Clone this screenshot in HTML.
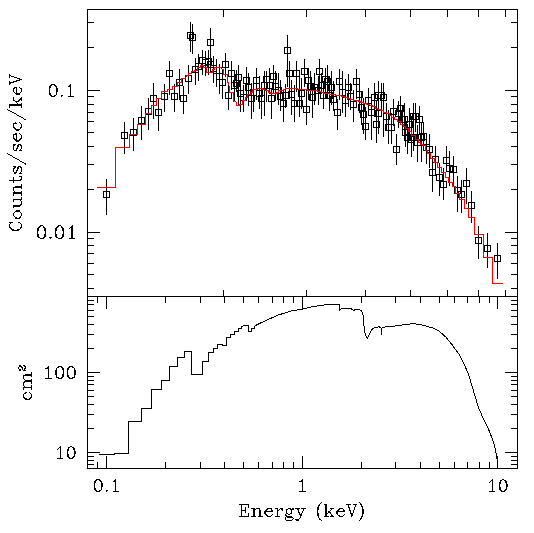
<!DOCTYPE html>
<html><head><meta charset="utf-8"><style>
html,body{margin:0;padding:0;background:#fff;}
svg{display:block;}
body{font-family:"Liberation Serif",serif;}
</style></head><body>
<svg width="534" height="533" viewBox="0 0 534 533">
<rect width="534" height="533" fill="#fff"/>
<path d="M87.5 9.5H517.5V468.5H87.5Z M87.5 296.5H517.5 M87.5 22.5h6.5M517.5 22.5h-6.5 M87.5 47.5h6.5M517.5 47.5h-6.5 M87.5 90.5h12.5M517.5 90.5h-12.5 M87.5 96.5h6.5M517.5 96.5h-6.5 M87.5 104.5h6.5M517.5 104.5h-6.5 M87.5 112.5h6.5M517.5 112.5h-6.5 M87.5 121.5h6.5M517.5 121.5h-6.5 M87.5 132.5h6.5M517.5 132.5h-6.5 M87.5 146.5h6.5M517.5 146.5h-6.5 M87.5 164.5h6.5M517.5 164.5h-6.5 M87.5 189.5h6.5M517.5 189.5h-6.5 M87.5 232.5h12.5M517.5 232.5h-12.5 M87.5 238.5h6.5M517.5 238.5h-6.5 M87.5 245.5h6.5M517.5 245.5h-6.5 M87.5 253.5h6.5M517.5 253.5h-6.5 M87.5 263.5h6.5M517.5 263.5h-6.5 M87.5 274.5h6.5M517.5 274.5h-6.5 M87.5 288.5h6.5M517.5 288.5h-6.5 M223.5 9.5v7.5M223.5 296.5v-7 M306.5 9.5v7.5M306.5 296.5v-7 M365.5 9.5v7.5M365.5 296.5v-7 M410.5 9.5v7.5M410.5 296.5v-7 M447.5 9.5v7.5M447.5 296.5v-7 M478.5 9.5v7.5M478.5 296.5v-7 M505.5 9.5v7.5M505.5 296.5v-7 M87.5 300.5h6.5M517.5 300.5h-6.5 M87.5 304.5h6.5M517.5 304.5h-6.5 M87.5 310.5h6.5M517.5 310.5h-6.5 M87.5 316.5h6.5M517.5 316.5h-6.5 M87.5 324.5h6.5M517.5 324.5h-6.5 M87.5 334.5h6.5M517.5 334.5h-6.5 M87.5 348.5h6.5M517.5 348.5h-6.5 M87.5 372.5h12.5M517.5 372.5h-12.5 M87.5 376.5h6.5M517.5 376.5h-6.5 M87.5 380.5h6.5M517.5 380.5h-6.5 M87.5 384.5h6.5M517.5 384.5h-6.5 M87.5 390.5h6.5M517.5 390.5h-6.5 M87.5 396.5h6.5M517.5 396.5h-6.5 M87.5 404.5h6.5M517.5 404.5h-6.5 M87.5 414.5h6.5M517.5 414.5h-6.5 M87.5 428.5h6.5M517.5 428.5h-6.5 M87.5 452.5h12.5M517.5 452.5h-12.5 M87.5 456.5h6.5M517.5 456.5h-6.5 M87.5 460.5h6.5M517.5 460.5h-6.5 M87.5 464.5h6.5M517.5 464.5h-6.5 M97.5 296.5v6.5M97.5 468.5v-6.5 M106.5 296.5v12.5M106.5 468.5v-12.5 M165.5 296.5v6.5M165.5 468.5v-6.5 M200.5 296.5v6.5M200.5 468.5v-6.5 M224.5 296.5v6.5M224.5 468.5v-6.5 M243.5 296.5v6.5M243.5 468.5v-6.5 M258.5 296.5v6.5M258.5 468.5v-6.5 M272.5 296.5v6.5M272.5 468.5v-6.5 M283.5 296.5v6.5M283.5 468.5v-6.5 M293.5 296.5v6.5M293.5 468.5v-6.5 M302.5 296.5v12.5M302.5 468.5v-12.5 M361.5 296.5v6.5M361.5 468.5v-6.5 M395.5 296.5v6.5M395.5 468.5v-6.5 M420.5 296.5v6.5M420.5 468.5v-6.5 M439.5 296.5v6.5M439.5 468.5v-6.5 M454.5 296.5v6.5M454.5 468.5v-6.5 M467.5 296.5v6.5M467.5 468.5v-6.5 M479.5 296.5v6.5M479.5 468.5v-6.5 M489.5 296.5v6.5M489.5 468.5v-6.5 M497.5 296.5v12.5M497.5 468.5v-12.5 M99.2 454.2 L114.5 454.2 L114.5 453.3 L128.3 453.3 L128.3 421.3 L141.4 421.3 L141.4 408.3 L151.5 408.3 L151.5 389.4 L161.4 389.4 L161.4 380.4 L169.5 380.4 L169.5 366.4 L177.3 366.4 L177.3 357.4 L184.2 357.4 L184.2 351.2 L191.3 351.2 L191.3 374.3 L202.5 374.3 L202.5 361.3 L208.5 361.3 L208.5 352.3 L213.3 352.3 L213.3 348.2 L217 348.2 L217 344.1 L221.8 344.1 L222.7 345 L226.5 345 L226.5 337.6 L230.6 337.6 L230.6 334.2 L234.4 334.2 L234.4 331.3 L238.4 331.3 L238.4 328.6 L241.8 328.6 L241.8 326.3 L245.2 325.2 L248.3 325.2 L248.5 331.3 L251.5 331.3 L251.5 328.6 L254.2 328.6 L254.2 326.3 L257.5 324.5 L265.4 320.7 L272.1 317.8 L278.9 314.7 L285.6 312.9 L292.4 310.6 L301.2 309.5 L312.5 306.6 L323.7 305 L332.7 304.4 L339.4 304.4 L339.4 310.2 L341.1 308.7 L351 308.7 L353.6 310.2 L358.8 309.1 L361.5 311.1 L363.4 315.7 L364.1 327.5 L365.4 335.3 L367.4 338.2 L369.3 334.7 L372 329.4 L375.2 327.5 L379.1 326.8 L381.1 328.1 L381.4 334.7 L381.6 328.1 L383.7 327.5 L387.7 326.1 L392.9 326.4 L400 325.3 L406.5 324.4 L413 323.7 L419.6 324.4 L426.1 326 L432.6 328 L439.1 331.2 L445.6 336.8 L452.2 344.9 L458.7 353.7 L463.6 362.8 L468.5 374.3 L473.4 390.6 L478.3 406.9 L483.1 418.3 L488 428 L491.3 436.2 L494.6 446 L496.5 455.8 L497.5 462 L497.5 468" fill="none" stroke="#000" stroke-width="1.0" stroke-linejoin="miter" shape-rendering="crispEdges"/>
<path d="M106.3 179.3V214.6M103.3 191.4h6.0v6.0h-6.0z M124.6 121.5V154.1M121.6 132.4h6.0v6.0h-6.0z M133.4 118.3V150.5M130.4 129.9h6.0v6.0h-6.0z M141.3 106.1V140.2M138.3 117.6h6.0v6.0h-6.0z M148.2 98.0V130.0M145.2 108.6h6.0v6.0h-6.0z M153.2 83.0V119.0M150.2 95.3h6.0v6.0h-6.0z M158.4 99.2V131.0M155.4 109.3h6.0v6.0h-6.0z M164.8 84.2V111.5M161.8 93.4h6.0v6.0h-6.0z M169.9 61.2V95.0M166.9 70.3h6.0v6.0h-6.0z M174.4 84.2V111.8M171.4 93.4h6.0v6.0h-6.0z M179.4 69.2V99.5M176.4 79.2h6.0v6.0h-6.0z M183.7 86.0V113.8M180.7 95.3h6.0v6.0h-6.0z M188.5 65.0V93.7M185.5 75.2h6.0v6.0h-6.0z M190.9 22.3V51.6M187.9 32.2h6.0v6.0h-6.0z M192.6 24.1V53.5M189.6 34.1h6.0v6.0h-6.0z M195.3 58.0V84.7M192.3 66.2h6.0v6.0h-6.0z M198.6 54.2V80.5M195.6 63.0h6.0v6.0h-6.0z M202.4 49.9V74.9M199.4 57.3h6.0v6.0h-6.0z M205.2 51.3V75.8M202.2 59.0h6.0v6.0h-6.0z M208.3 49.9V74.9M205.3 58.0h6.0v6.0h-6.0z M210.6 27.8V58.0M207.6 39.4h6.0v6.0h-6.0z M210.4 52.0V72.5M207.4 61.0h6.0v6.0h-6.0z M213.4 56.0V82.5M210.4 65.0h6.0v6.0h-6.0z M216.2 58.9V86.7M213.2 67.7h6.0v6.0h-6.0z M219.5 64.0V93.8M216.5 73.0h6.0v6.0h-6.0z M222.3 69.0V99.4M219.3 79.9h6.0v6.0h-6.0z M225.6 53.0V77.3M222.6 61.2h6.0v6.0h-6.0z M228.4 82.8V110.0M225.4 92.4h6.0v6.0h-6.0z M231.5 61.4V89.5M228.5 70.6h6.0v6.0h-6.0z M234.5 73.0V101.2M231.5 82.3h6.0v6.0h-6.0z M236.0 70.0V92.0M233.0 80.0h6.0v6.0h-6.0z M238.4 65.2V106.3M235.4 74.8h6.0v6.0h-6.0z M240.5 80.0V111.7M237.5 90.2h6.0v6.0h-6.0z M243.3 85.0V111.7M240.3 94.5h6.0v6.0h-6.0z M246.3 67.0V101.0M243.3 77.7h6.0v6.0h-6.0z M248.6 73.1V106.0M245.6 84.0h6.0v6.0h-6.0z M251.5 83.3V118.7M248.5 95.5h6.0v6.0h-6.0z M253.9 77.3V111.7M250.9 89.0h6.0v6.0h-6.0z M256.4 67.5V99.6M253.4 77.5h6.0v6.0h-6.0z M259.5 76.0V108.8M256.5 90.0h6.0v6.0h-6.0z M261.6 83.2V118.6M258.6 95.5h6.0v6.0h-6.0z M264.4 71.0V116.0M261.4 82.0h6.0v6.0h-6.0z M266.6 70.7V102.2M263.6 76.3h6.0v6.0h-6.0z M269.4 67.5V94.3M266.4 82.2h6.0v6.0h-6.0z M271.4 87.8V118.6M268.4 95.3h6.0v6.0h-6.0z M273.6 64.8V94.3M270.6 73.0h6.0v6.0h-6.0z M275.7 71.4V100.5M272.7 83.5h6.0v6.0h-6.0z M278.3 73.4V104.8M275.3 87.0h6.0v6.0h-6.0z M280.6 80.0V111.4M277.6 93.5h6.0v6.0h-6.0z M283.3 89.0V121.9M280.3 100.8h6.0v6.0h-6.0z M285.3 83.9V107.5M282.3 92.0h6.0v6.0h-6.0z M287.6 35.1V86.5M284.6 47.1h6.0v6.0h-6.0z M289.5 60.9V99.0M286.5 70.4h6.0v6.0h-6.0z M291.7 80.0V115.3M288.7 91.5h6.0v6.0h-6.0z M294.0 84.5V122.0M291.0 100.5h6.0v6.0h-6.0z M296.3 60.9V91.7M293.3 70.4h6.0v6.0h-6.0z M299.6 76.0V116.6M296.6 100.0h6.0v6.0h-6.0z M301.6 78.0V108.8M298.6 90.5h6.0v6.0h-6.0z M304.2 58.9V86.5M301.2 68.4h6.0v6.0h-6.0z M306.5 89.0V124.5M303.5 106.6h6.0v6.0h-6.0z M308.8 67.5V99.5M305.8 77.0h6.0v6.0h-6.0z M310.7 71.4V100.9M307.7 83.5h6.0v6.0h-6.0z M312.3 84.0V118.0M309.3 94.6h6.0v6.0h-6.0z M314.7 72.7V104.8M311.7 84.8h6.0v6.0h-6.0z M318.0 76.0V104.8M315.0 87.0h6.0v6.0h-6.0z M319.9 59.0V94.0M316.9 68.6h6.0v6.0h-6.0z M321.4 73.0V92.0M318.4 82.5h6.0v6.0h-6.0z M323.2 81.0V108.8M320.2 92.0h6.0v6.0h-6.0z M325.6 67.5V98.3M322.6 76.3h6.0v6.0h-6.0z M327.5 64.8V98.0M324.5 78.5h6.0v6.0h-6.0z M329.4 76.0V111.4M326.4 92.7h6.0v6.0h-6.0z M331.1 71.4V104.8M328.1 84.0h6.0v6.0h-6.0z M333.2 81.2V111.4M330.2 96.0h6.0v6.0h-6.0z M337.2 99.0V130.0M334.2 109.3h6.0v6.0h-6.0z M339.5 69.0V100.0M336.5 78.0h6.0v6.0h-6.0z M342.5 71.3V112.6M339.5 89.0h6.0v6.0h-6.0z M345.5 78.8V117.0M342.5 97.8h6.0v6.0h-6.0z M348.5 73.5V107.0M345.5 84.8h6.0v6.0h-6.0z M350.8 82.6V109.6M347.8 93.0h6.0v6.0h-6.0z M353.0 90.0V121.7M350.0 101.0h6.0v6.0h-6.0z M356.5 69.0V99.0M353.5 78.8h6.0v6.0h-6.0z M359.0 79.5V112.6M356.0 91.6h6.0v6.0h-6.0z M361.5 92.3V125.0M358.5 104.6h6.0v6.0h-6.0z M363.6 97.6V133.7M360.6 111.2h6.0v6.0h-6.0z M365.4 106.6V139.7M362.4 123.5h6.0v6.0h-6.0z M368.4 87.8V114.0M365.4 97.6h6.0v6.0h-6.0z M371.1 97.0V139.7M368.1 109.0h6.0v6.0h-6.0z M374.3 83.3V117.0M371.3 94.4h6.0v6.0h-6.0z M376.4 99.5V143.4M373.4 121.0h6.0v6.0h-6.0z M378.0 99.0V134.0M375.0 110.8h6.0v6.0h-6.0z M378.8 81.1V112.0M375.8 92.0h6.0v6.0h-6.0z M381.8 82.6V110.0M378.8 92.5h6.0v6.0h-6.0z M383.6 83.4V136.6M380.6 94.0h6.0v6.0h-6.0z M386.5 103.0V130.0M383.5 113.5h6.0v6.0h-6.0z M388.5 110.0V144.2M385.5 124.3h6.0v6.0h-6.0z M391.2 113.0V144.2M388.2 124.3h6.0v6.0h-6.0z M393.2 98.6V126.0M390.2 108.3h6.0v6.0h-6.0z M396.4 134.0V164.5M393.4 146.3h6.0v6.0h-6.0z M398.3 101.2V128.0M395.3 110.0h6.0v6.0h-6.0z M400.3 96.1V125.0M397.3 105.0h6.0v6.0h-6.0z M402.8 105.0V134.0M399.8 116.0h6.0v6.0h-6.0z M404.5 102.8V134.0M401.5 116.0h6.0v6.0h-6.0z M405.2 120.0V147.0M402.2 129.4h6.0v6.0h-6.0z M407.1 124.0V154.3M404.1 134.0h6.0v6.0h-6.0z M409.6 107.9V140.0M406.6 121.0h6.0v6.0h-6.0z M411.4 116.0V157.4M408.4 136.5h6.0v6.0h-6.0z M413.0 103.0V130.0M410.0 113.4h6.0v6.0h-6.0z M413.2 124.0V150.6M410.2 134.0h6.0v6.0h-6.0z M415.3 103.4V132.0M412.3 113.9h6.0v6.0h-6.0z M417.6 125.0V161.6M414.6 139.2h6.0v6.0h-6.0z M419.5 105.9V135.0M416.5 116.4h6.0v6.0h-6.0z M421.6 122.0V161.6M418.6 134.0h6.0v6.0h-6.0z M423.5 122.0V150.0M420.5 133.0h6.0v6.0h-6.0z M426.4 134.0V164.2M423.4 144.9h6.0v6.0h-6.0z M429.5 133.8V167.6M426.5 146.5h6.0v6.0h-6.0z M432.3 156.0V192.4M429.3 169.1h6.0v6.0h-6.0z M435.7 146.2V173.8M432.7 156.2h6.0v6.0h-6.0z M439.1 162.5V196.3M436.1 174.7h6.0v6.0h-6.0z M443.6 168.2V199.7M440.6 181.0h6.0v6.0h-6.0z M446.4 146.2V170.4M443.4 157.3h6.0v6.0h-6.0z M449.6 151.3V186.2M446.6 165.0h6.0v6.0h-6.0z M453.3 156.3V186.0M450.3 166.9h6.0v6.0h-6.0z M457.5 176.0V211.6M454.5 187.7h6.0v6.0h-6.0z M461.3 180.0V213.4M458.3 191.0h6.0v6.0h-6.0z M466.2 167.8V204.0M463.2 180.9h6.0v6.0h-6.0z M471.2 191.4V223.3M468.2 202.0h6.0v6.0h-6.0z M478.3 226.1V259.0M475.3 237.4h6.0v6.0h-6.0z M487.9 233.3V268.0M484.9 245.4h6.0v6.0h-6.0z M497.8 243.0V278.6M494.8 255.2h6.0v6.0h-6.0z" fill="none" stroke="#000" stroke-width="1.0" shape-rendering="crispEdges"/>
<path d="M97.30 187.10 L115.60 187.10 L115.60 147.00 L129.00 147.00 L129.00 134.10 L137.60 134.10 L137.60 124.40 L145.30 124.40 L145.30 113.75 L151.30 113.75 L151.30 105.50 L156.25 105.50 L156.25 98.30 L161.50 98.30 L161.50 91.25 L167.50 91.25 L167.50 89.30 L172.75 89.30 L172.75 86.50 L177.25 86.50 L177.25 82.80 L181.40 82.80 L181.40 78.60 L185.50 78.60 L186.40 75.40 L188.80 75.40 L188.80 73.50 L191.60 73.50 L191.60 71.60 L194.40 71.60 L194.40 70.20 L197.20 70.20 L197.20 67.80 L200.50 67.80 L200.50 65.50 L203.50 65.50 L203.80 67.80 L206.20 67.80 L206.60 72.10 L209.50 72.10 L209.90 73.00 L209.90 72.60 L212.00 72.60 L212.00 72.20 L212.90 70.30 L212.90 69.35 L214.80 69.35 L214.80 68.40 L214.80 67.85 L217.20 67.85 L217.20 67.30 L220.90 67.30 L221.80 68.90 L223.20 69.40 L223.70 74.10 L227.00 74.10 L227.50 82.00 L228.90 82.50 L229.30 92.30 L233.10 92.30 L233.60 101.20 L235.90 101.20 L236.40 105.50 L239.60 105.50 L240.10 104.40 L242.70 104.40 L242.70 100.80 L245.70 100.80 L245.70 97.50 L247.70 97.50 L247.70 94.30 L250.60 94.30 L250.60 92.00 L252.60 92.00 L252.60 90.30 L252.60 89.85 L255.00 89.85 L255.00 89.40 L255.00 89.15 L257.60 89.15 L257.60 88.65 L260.20 88.65 L260.20 88.40 L260.20 88.90 L262.85 88.90 L262.85 89.90 L265.50 89.90 L265.50 90.40 L265.50 90.95 L268.13 90.95 L268.13 92.05 L270.77 92.05 L270.77 93.15 L273.40 93.15 L273.40 93.70 L273.40 93.15 L276.00 93.15 L276.00 92.05 L278.60 92.05 L278.60 90.95 L281.20 90.95 L281.20 90.40 L281.20 90.07 L283.40 90.07 L283.40 89.40 L285.60 89.40 L285.60 88.73 L287.80 88.73 L287.80 88.40 L295.00 88.60 L295.00 88.75 L297.62 88.75 L297.62 89.05 L300.25 89.05 L300.25 89.35 L302.88 89.35 L302.88 89.65 L305.50 89.65 L305.50 89.80 L305.50 89.88 L307.80 89.88 L307.80 90.03 L310.10 90.03 L310.10 90.17 L312.40 90.17 L312.40 90.33 L314.70 90.33 L314.70 90.40 L314.70 90.90 L317.95 90.90 L317.95 91.90 L321.20 91.90 L321.20 92.40 L321.20 92.65 L323.96 92.65 L323.96 93.15 L326.72 93.15 L326.72 93.65 L329.48 93.65 L329.48 94.15 L332.24 94.15 L332.24 94.65 L335.00 94.65 L335.00 94.90 L335.00 95.22 L338.00 95.22 L338.00 95.85 L341.00 95.85 L341.00 96.48 L344.00 96.48 L344.00 96.80 L344.00 97.30 L347.00 97.30 L347.00 98.30 L350.00 98.30 L350.00 99.30 L353.00 99.30 L353.00 99.80 L353.00 100.18 L355.53 100.18 L355.53 100.95 L358.07 100.95 L358.07 101.72 L360.60 101.72 L360.60 102.10 L360.60 102.67 L363.60 102.67 L363.60 103.83 L366.60 103.83 L366.60 104.40 L366.60 104.92 L369.40 104.92 L369.40 105.95 L372.20 105.95 L372.20 106.98 L375.00 106.98 L375.00 107.50 L375.00 108.13 L377.80 108.13 L377.80 109.40 L380.60 109.40 L380.60 110.67 L383.40 110.67 L383.40 111.30 L383.40 112.15 L386.23 112.15 L386.23 113.85 L389.07 113.85 L389.07 115.55 L391.90 115.55 L391.90 116.40 L391.90 117.52 L394.70 117.52 L394.70 119.75 L397.50 119.75 L397.50 121.98 L400.30 121.98 L400.30 123.10 L400.30 124.23 L403.13 124.23 L403.13 126.50 L405.97 126.50 L405.97 128.77 L408.80 128.77 L408.80 129.90 L408.80 131.68 L411.90 131.68 L411.90 135.22 L415.00 135.22 L415.00 137.00 L415.00 139.20 L418.40 139.20 L418.40 141.40 L418.40 142.30 L420.60 142.30 L420.60 144.10 L422.80 144.10 L422.80 145.90 L425.00 145.90 L425.00 146.80 L425.50 150.20 L427.20 150.20 L427.20 153.40 L430.60 153.40 L430.60 158.30 L434.70 158.30 L434.70 162.40 L437.70 162.40 L437.70 167.25 L441.40 167.25 L441.40 172.10 L445.80 172.70 L445.80 177.20 L448.70 177.70 L448.70 182.30 L452.00 182.80 L452.00 186.20 L452.00 186.50 L455.40 186.50 L455.40 186.80 L455.40 193.30 L459.20 193.30 L459.20 199.80 L464.40 199.80 L464.40 208.30 L468.10 208.30 L468.10 217.20 L474.70 217.20 L474.70 234.10 L483.40 234.10 L483.40 257.30 L492.40 257.30 L492.40 283.10 L502.70 283.10" fill="none" stroke="#ff0000" stroke-width="1.0" shape-rendering="crispEdges"/>
<path d="M9 74h1v1h-1zM9 75h2v1h-2zM9 76h1v1h-1zM11 76h3v1h-3zM9 77h1v1h-1zM14 77h3v1h-3zM17 78h3v1h-3zM19 79h3v1h-3zM16 80h4v1h-4zM9 81h1v1h-1zM13 81h4v1h-4zM9 82h5v1h-5zM9 83h2v1h-2zM9 84h1v1h-1zM51 84h4v1h-4zM70 84h1v1h-1zM50 85h2v1h-2zM54 85h2v1h-2zM69 85h2v1h-2zM49 86h2v1h-2zM55 86h2v1h-2zM68 86h3v1h-3zM14 87h3v1h-3zM19 87h1v1h-1zM49 87h2v1h-2zM56 87h1v1h-1zM70 87h1v1h-1zM13 88h2v1h-2zM16 88h1v1h-1zM20 88h2v1h-2zM49 88h1v1h-1zM56 88h2v1h-2zM70 88h1v1h-1zM13 89h1v1h-1zM16 89h1v1h-1zM21 89h1v1h-1zM49 89h1v1h-1zM56 89h2v1h-2zM70 89h1v1h-1zM13 90h1v1h-1zM16 90h1v1h-1zM21 90h1v1h-1zM49 90h1v1h-1zM56 90h2v1h-2zM70 90h1v1h-1zM13 91h1v1h-1zM16 91h1v1h-1zM21 91h1v1h-1zM49 91h1v1h-1zM56 91h2v1h-2zM70 91h1v1h-1zM14 92h1v1h-1zM16 92h1v1h-1zM20 92h1v1h-1zM49 92h1v1h-1zM56 92h1v1h-1zM70 92h1v1h-1zM15 93h5v1h-5zM49 93h2v1h-2zM56 93h1v1h-1zM70 93h1v1h-1zM16 94h4v1h-4zM49 94h2v1h-2zM56 94h1v1h-1zM70 94h1v1h-1zM50 95h2v1h-2zM54 95h2v1h-2zM61 95h2v1h-2zM70 95h1v1h-1zM51 96h4v1h-4zM61 96h1v1h-1zM68 96h6v1h-6zM13 97h1v1h-1zM21 97h1v1h-1zM13 98h1v1h-1zM20 98h2v1h-2zM13 99h1v1h-1zM19 99h3v1h-3zM13 100h2v1h-2zM18 100h2v1h-2zM21 100h1v1h-1zM15 101h4v1h-4zM16 102h1v1h-1zM17 103h1v1h-1zM21 103h1v1h-1zM9 104h13v1h-13zM9 105h13v1h-13zM9 106h1v1h-1zM21 106h1v1h-1zM9 107h1v1h-1zM21 107h1v1h-1zM7 109h1v1h-1zM8 110h2v1h-2zM10 111h2v1h-2zM12 112h2v1h-2zM14 113h2v1h-2zM16 114h1v1h-1zM17 115h2v1h-2zM19 116h2v1h-2zM21 117h2v1h-2zM23 118h1v1h-1zM24 119h2v1h-2zM15 122h1v1h-1zM19 122h1v1h-1zM13 123h4v1h-4zM20 123h1v1h-1zM13 124h1v1h-1zM21 124h1v1h-1zM13 125h1v1h-1zM21 125h1v1h-1zM13 126h1v1h-1zM21 126h1v1h-1zM13 127h2v1h-2zM20 127h2v1h-2zM14 128h2v1h-2zM20 128h1v1h-1zM15 129h5v1h-5zM16 130h3v1h-3zM15 133h2v1h-2zM19 133h1v1h-1zM13 134h4v1h-4zM20 134h1v1h-1zM13 135h1v1h-1zM16 135h1v1h-1zM21 135h1v1h-1zM13 136h1v1h-1zM16 136h1v1h-1zM21 136h1v1h-1zM13 137h1v1h-1zM16 137h1v1h-1zM21 137h1v1h-1zM13 138h2v1h-2zM16 138h1v1h-1zM20 138h2v1h-2zM14 139h3v1h-3zM19 139h2v1h-2zM15 140h5v1h-5zM16 141h3v1h-3zM13 144h3v1h-3zM18 144h3v1h-3zM13 145h2v1h-2zM17 145h2v1h-2zM20 145h2v1h-2zM13 146h1v1h-1zM17 146h2v1h-2zM21 146h1v1h-1zM13 147h1v1h-1zM17 147h1v1h-1zM21 147h1v1h-1zM13 148h1v1h-1zM16 148h2v1h-2zM21 148h1v1h-1zM13 149h1v1h-1zM16 149h1v1h-1zM20 149h1v1h-1zM14 150h3v1h-3zM19 150h3v1h-3zM7 153h1v1h-1zM8 154h2v1h-2zM10 155h2v1h-2zM12 156h1v1h-1zM13 157h2v1h-2zM15 158h2v1h-2zM17 159h2v1h-2zM19 160h1v1h-1zM20 161h2v1h-2zM22 162h2v1h-2zM24 163h2v1h-2zM25 164h1v1h-1zM13 166h3v1h-3zM18 166h3v1h-3zM14 167h2v1h-2zM17 167h2v1h-2zM20 167h2v1h-2zM13 168h2v1h-2zM17 168h2v1h-2zM21 168h1v1h-1zM13 169h1v1h-1zM17 169h1v1h-1zM21 169h1v1h-1zM13 170h1v1h-1zM16 170h2v1h-2zM21 170h1v1h-1zM13 171h1v1h-1zM16 171h1v1h-1zM21 171h1v1h-1zM14 172h3v1h-3zM20 172h1v1h-1zM14 173h2v1h-2zM19 173h3v1h-3zM19 176h3v1h-3zM13 177h1v1h-1zM21 177h1v1h-1zM13 178h1v1h-1zM21 178h1v1h-1zM13 179h1v1h-1zM20 179h2v1h-2zM9 180h12v1h-12zM13 181h1v1h-1zM13 182h1v1h-1zM21 184h1v1h-1zM21 185h1v1h-1zM15 186h7v1h-7zM13 187h9v1h-9zM13 188h1v1h-1zM21 188h1v1h-1zM13 189h1v1h-1zM13 190h1v1h-1zM14 191h1v1h-1zM21 191h1v1h-1zM13 192h9v1h-9zM13 193h9v1h-9zM13 194h1v1h-1zM21 194h1v1h-1zM13 195h1v1h-1zM21 195h1v1h-1zM21 197h1v1h-1zM21 198h1v1h-1zM13 199h9v1h-9zM13 200h1v1h-1zM20 200h1v1h-1zM13 201h1v1h-1zM21 201h1v1h-1zM21 202h1v1h-1zM21 203h1v1h-1zM20 204h2v1h-2zM13 205h8v1h-8zM13 206h7v1h-7zM13 207h1v1h-1zM16 210h4v1h-4zM15 211h5v1h-5zM14 212h1v1h-1zM20 212h1v1h-1zM13 213h1v1h-1zM21 213h1v1h-1zM13 214h1v1h-1zM21 214h1v1h-1zM13 215h1v1h-1zM21 215h1v1h-1zM14 216h1v1h-1zM20 216h1v1h-1zM15 217h2v1h-2zM19 217h2v1h-2zM15 218h5v1h-5zM9 222h4v1h-4zM18 222h2v1h-2zM10 223h1v1h-1zM20 223h1v1h-1zM9 224h1v1h-1zM21 224h1v1h-1zM9 225h1v1h-1zM21 225h1v1h-1zM40 225h3v1h-3zM58 225h3v1h-3zM72 225h1v1h-1zM9 226h1v1h-1zM21 226h1v1h-1zM39 226h2v1h-2zM43 226h1v1h-1zM57 226h2v1h-2zM61 226h1v1h-1zM71 226h2v1h-2zM9 227h2v1h-2zM20 227h2v1h-2zM38 227h2v1h-2zM43 227h2v1h-2zM56 227h2v1h-2zM61 227h2v1h-2zM70 227h3v1h-3zM10 228h2v1h-2zM20 228h1v1h-1zM37 228h2v1h-2zM44 228h2v1h-2zM55 228h2v1h-2zM62 228h2v1h-2zM69 228h1v1h-1zM71 228h2v1h-2zM11 229h3v1h-3zM17 229h3v1h-3zM37 229h2v1h-2zM44 229h2v1h-2zM55 229h2v1h-2zM62 229h2v1h-2zM71 229h2v1h-2zM12 230h7v1h-7zM37 230h2v1h-2zM44 230h2v1h-2zM55 230h2v1h-2zM62 230h2v1h-2zM71 230h2v1h-2zM37 231h1v1h-1zM45 231h1v1h-1zM55 231h1v1h-1zM63 231h1v1h-1zM71 231h2v1h-2zM37 232h1v1h-1zM45 232h1v1h-1zM55 232h1v1h-1zM63 232h1v1h-1zM71 232h2v1h-2zM37 233h1v1h-1zM45 233h1v1h-1zM55 233h1v1h-1zM63 233h1v1h-1zM71 233h2v1h-2zM37 234h2v1h-2zM44 234h2v1h-2zM55 234h2v1h-2zM62 234h2v1h-2zM71 234h2v1h-2zM37 235h2v1h-2zM44 235h2v1h-2zM55 235h2v1h-2zM62 235h2v1h-2zM71 235h2v1h-2zM37 236h2v1h-2zM44 236h2v1h-2zM55 236h2v1h-2zM62 236h2v1h-2zM71 236h2v1h-2zM38 237h2v1h-2zM43 237h2v1h-2zM49 237h3v1h-3zM56 237h2v1h-2zM61 237h2v1h-2zM71 237h2v1h-2zM40 238h4v1h-4zM50 238h1v1h-1zM58 238h4v1h-4zM69 238h6v1h-6zM19 365h2v1h-2zM23 365h2v1h-2zM19 366h3v1h-3zM24 366h2v1h-2zM48 366h1v1h-1zM58 366h4v1h-4zM69 366h4v1h-4zM18 367h1v1h-1zM21 367h2v1h-2zM25 367h1v1h-1zM47 367h2v1h-2zM57 367h2v1h-2zM61 367h2v1h-2zM68 367h2v1h-2zM72 367h2v1h-2zM18 368h1v1h-1zM22 368h1v1h-1zM24 368h2v1h-2zM45 368h4v1h-4zM56 368h1v1h-1zM62 368h2v1h-2zM67 368h2v1h-2zM74 368h1v1h-1zM19 369h2v1h-2zM22 369h1v1h-1zM24 369h1v1h-1zM48 369h1v1h-1zM56 369h1v1h-1zM62 369h2v1h-2zM67 369h2v1h-2zM74 369h1v1h-1zM19 370h2v1h-2zM23 370h3v1h-3zM48 370h1v1h-1zM55 370h2v1h-2zM63 370h1v1h-1zM67 370h1v1h-1zM74 370h2v1h-2zM48 371h1v1h-1zM55 371h2v1h-2zM63 371h1v1h-1zM67 371h1v1h-1zM74 371h2v1h-2zM31 372h1v1h-1zM48 372h1v1h-1zM55 372h2v1h-2zM63 372h1v1h-1zM67 372h1v1h-1zM74 372h2v1h-2zM31 373h1v1h-1zM48 373h1v1h-1zM55 373h2v1h-2zM63 373h1v1h-1zM67 373h1v1h-1zM74 373h2v1h-2zM25 374h7v1h-7zM48 374h1v1h-1zM55 374h2v1h-2zM62 374h2v1h-2zM67 374h1v1h-1zM74 374h2v1h-2zM23 375h9v1h-9zM48 375h1v1h-1zM56 375h1v1h-1zM62 375h2v1h-2zM67 375h2v1h-2zM74 375h1v1h-1zM23 376h1v1h-1zM31 376h1v1h-1zM48 376h1v1h-1zM56 376h1v1h-1zM62 376h2v1h-2zM67 376h2v1h-2zM74 376h1v1h-1zM23 377h1v1h-1zM48 377h1v1h-1zM56 377h3v1h-3zM61 377h2v1h-2zM68 377h2v1h-2zM72 377h3v1h-3zM23 378h1v1h-1zM45 378h7v1h-7zM58 378h4v1h-4zM69 378h4v1h-4zM24 379h1v1h-1zM31 379h1v1h-1zM25 380h7v1h-7zM24 381h8v1h-8zM23 382h2v1h-2zM31 382h1v1h-1zM23 383h1v1h-1zM31 383h1v1h-1zM23 384h1v1h-1zM23 385h1v1h-1zM31 385h1v1h-1zM24 386h1v1h-1zM31 386h1v1h-1zM23 387h9v1h-9zM23 388h1v1h-1zM31 388h1v1h-1zM23 389h1v1h-1zM31 389h1v1h-1zM25 392h2v1h-2zM29 392h1v1h-1zM24 393h2v1h-2zM30 393h1v1h-1zM23 394h1v1h-1zM31 394h1v1h-1zM23 395h1v1h-1zM31 395h1v1h-1zM23 396h1v1h-1zM31 396h1v1h-1zM23 397h2v1h-2zM30 397h2v1h-2zM24 398h3v1h-3zM29 398h2v1h-2zM25 399h5v1h-5zM60 446h1v1h-1zM70 446h2v1h-2zM59 447h2v1h-2zM68 447h2v1h-2zM72 447h2v1h-2zM58 448h1v1h-1zM60 448h1v1h-1zM68 448h1v1h-1zM73 448h2v1h-2zM57 449h1v1h-1zM60 449h1v1h-1zM67 449h2v1h-2zM73 449h2v1h-2zM60 450h1v1h-1zM67 450h2v1h-2zM74 450h1v1h-1zM60 451h1v1h-1zM67 451h1v1h-1zM74 451h2v1h-2zM60 452h1v1h-1zM67 452h1v1h-1zM74 452h2v1h-2zM60 453h1v1h-1zM67 453h1v1h-1zM74 453h2v1h-2zM60 454h1v1h-1zM67 454h2v1h-2zM74 454h1v1h-1zM60 455h1v1h-1zM67 455h2v1h-2zM74 455h1v1h-1zM60 456h1v1h-1zM67 456h2v1h-2zM73 456h2v1h-2zM60 457h1v1h-1zM68 457h2v1h-2zM72 457h2v1h-2zM57 458h6v1h-6zM69 458h4v1h-4zM96 479h4v1h-4zM115 479h1v1h-1zM302 479h1v1h-1zM492 479h1v1h-1zM502 479h2v1h-2zM95 480h2v1h-2zM99 480h2v1h-2zM114 480h2v1h-2zM301 480h2v1h-2zM491 480h2v1h-2zM500 480h2v1h-2zM504 480h2v1h-2zM94 481h2v1h-2zM100 481h2v1h-2zM113 481h3v1h-3zM299 481h4v1h-4zM490 481h1v1h-1zM492 481h1v1h-1zM500 481h1v1h-1zM505 481h2v1h-2zM94 482h2v1h-2zM101 482h1v1h-1zM115 482h1v1h-1zM302 482h1v1h-1zM489 482h1v1h-1zM492 482h1v1h-1zM499 482h2v1h-2zM505 482h2v1h-2zM94 483h1v1h-1zM101 483h2v1h-2zM115 483h1v1h-1zM302 483h1v1h-1zM492 483h1v1h-1zM499 483h2v1h-2zM506 483h1v1h-1zM94 484h1v1h-1zM101 484h2v1h-2zM115 484h1v1h-1zM302 484h1v1h-1zM492 484h1v1h-1zM499 484h1v1h-1zM506 484h2v1h-2zM94 485h1v1h-1zM101 485h2v1h-2zM115 485h1v1h-1zM302 485h1v1h-1zM492 485h1v1h-1zM499 485h1v1h-1zM506 485h2v1h-2zM94 486h1v1h-1zM101 486h2v1h-2zM115 486h1v1h-1zM302 486h1v1h-1zM492 486h1v1h-1zM499 486h1v1h-1zM506 486h2v1h-2zM94 487h1v1h-1zM101 487h1v1h-1zM115 487h1v1h-1zM302 487h1v1h-1zM492 487h1v1h-1zM499 487h2v1h-2zM506 487h1v1h-1zM94 488h2v1h-2zM101 488h1v1h-1zM115 488h1v1h-1zM302 488h1v1h-1zM492 488h1v1h-1zM499 488h2v1h-2zM506 488h1v1h-1zM94 489h2v1h-2zM101 489h1v1h-1zM115 489h1v1h-1zM302 489h1v1h-1zM492 489h1v1h-1zM499 489h2v1h-2zM505 489h2v1h-2zM95 490h2v1h-2zM99 490h2v1h-2zM106 490h2v1h-2zM115 490h1v1h-1zM302 490h1v1h-1zM492 490h1v1h-1zM500 490h2v1h-2zM504 490h2v1h-2zM96 491h4v1h-4zM106 491h1v1h-1zM113 491h6v1h-6zM299 491h7v1h-7zM489 491h6v1h-6zM501 491h4v1h-4zM321 502h1v1h-1zM359 502h1v1h-1zM320 503h1v1h-1zM360 503h1v1h-1zM239 504h10v1h-10zM319 504h1v1h-1zM324 504h3v1h-3zM346 504h5v1h-5zM353 504h4v1h-4zM360 504h2v1h-2zM241 505h1v1h-1zM248 505h1v1h-1zM318 505h2v1h-2zM325 505h2v1h-2zM348 505h1v1h-1zM355 505h1v1h-1zM361 505h1v1h-1zM241 506h1v1h-1zM248 506h1v1h-1zM318 506h1v1h-1zM325 506h2v1h-2zM348 506h1v1h-1zM355 506h1v1h-1zM361 506h2v1h-2zM241 507h1v1h-1zM245 507h1v1h-1zM248 507h1v1h-1zM317 507h2v1h-2zM325 507h2v1h-2zM348 507h2v1h-2zM354 507h1v1h-1zM362 507h1v1h-1zM241 508h1v1h-1zM245 508h1v1h-1zM251 508h4v1h-4zM256 508h4v1h-4zM267 508h5v1h-5zM275 508h3v1h-3zM280 508h3v1h-3zM288 508h3v1h-3zM292 508h2v1h-2zM295 508h5v1h-5zM301 508h5v1h-5zM317 508h2v1h-2zM325 508h2v1h-2zM330 508h4v1h-4zM339 508h4v1h-4zM349 508h1v1h-1zM354 508h1v1h-1zM362 508h1v1h-1zM241 509h1v1h-1zM245 509h1v1h-1zM253 509h3v1h-3zM259 509h1v1h-1zM266 509h2v1h-2zM271 509h1v1h-1zM277 509h1v1h-1zM279 509h1v1h-1zM281 509h2v1h-2zM286 509h2v1h-2zM290 509h4v1h-4zM297 509h2v1h-2zM303 509h1v1h-1zM317 509h2v1h-2zM325 509h2v1h-2zM331 509h1v1h-1zM338 509h2v1h-2zM343 509h1v1h-1zM349 509h1v1h-1zM354 509h1v1h-1zM362 509h2v1h-2zM241 510h5v1h-5zM253 510h2v1h-2zM259 510h2v1h-2zM265 510h2v1h-2zM271 510h2v1h-2zM277 510h2v1h-2zM282 510h1v1h-1zM286 510h1v1h-1zM291 510h1v1h-1zM298 510h1v1h-1zM303 510h1v1h-1zM317 510h1v1h-1zM325 510h2v1h-2zM330 510h1v1h-1zM337 510h2v1h-2zM343 510h2v1h-2zM349 510h2v1h-2zM353 510h1v1h-1zM362 510h2v1h-2zM241 511h1v1h-1zM245 511h1v1h-1zM253 511h2v1h-2zM259 511h2v1h-2zM264 511h9v1h-9zM277 511h1v1h-1zM286 511h1v1h-1zM291 511h1v1h-1zM298 511h1v1h-1zM302 511h1v1h-1zM317 511h1v1h-1zM325 511h2v1h-2zM328 511h2v1h-2zM336 511h9v1h-9zM350 511h1v1h-1zM353 511h1v1h-1zM362 511h2v1h-2zM241 512h1v1h-1zM245 512h1v1h-1zM253 512h2v1h-2zM259 512h2v1h-2zM264 512h2v1h-2zM277 512h1v1h-1zM286 512h1v1h-1zM291 512h1v1h-1zM298 512h2v1h-2zM302 512h1v1h-1zM317 512h1v1h-1zM325 512h2v1h-2zM328 512h3v1h-3zM336 512h2v1h-2zM350 512h1v1h-1zM353 512h1v1h-1zM362 512h2v1h-2zM241 513h1v1h-1zM248 513h1v1h-1zM253 513h2v1h-2zM259 513h2v1h-2zM264 513h2v1h-2zM277 513h1v1h-1zM286 513h2v1h-2zM290 513h2v1h-2zM299 513h1v1h-1zM301 513h1v1h-1zM317 513h2v1h-2zM325 513h3v1h-3zM330 513h1v1h-1zM336 513h2v1h-2zM350 513h3v1h-3zM362 513h2v1h-2zM241 514h1v1h-1zM248 514h1v1h-1zM253 514h2v1h-2zM259 514h2v1h-2zM265 514h2v1h-2zM272 514h1v1h-1zM277 514h1v1h-1zM285 514h1v1h-1zM288 514h2v1h-2zM299 514h3v1h-3zM317 514h2v1h-2zM325 514h2v1h-2zM331 514h1v1h-1zM337 514h1v1h-1zM344 514h1v1h-1zM351 514h2v1h-2zM362 514h1v1h-1zM241 515h1v1h-1zM248 515h1v1h-1zM253 515h2v1h-2zM259 515h2v1h-2zM266 515h2v1h-2zM271 515h1v1h-1zM277 515h1v1h-1zM285 515h2v1h-2zM300 515h2v1h-2zM317 515h2v1h-2zM325 515h2v1h-2zM331 515h2v1h-2zM338 515h2v1h-2zM343 515h1v1h-1zM351 515h2v1h-2zM362 515h1v1h-1zM239 516h10v1h-10zM251 516h5v1h-5zM258 516h5v1h-5zM267 516h4v1h-4zM275 516h5v1h-5zM286 516h6v1h-6zM300 516h1v1h-1zM318 516h1v1h-1zM324 516h5v1h-5zM330 516h4v1h-4zM339 516h4v1h-4zM351 516h1v1h-1zM361 516h2v1h-2zM285 517h1v1h-1zM287 517h6v1h-6zM300 517h1v1h-1zM318 517h1v1h-1zM361 517h1v1h-1zM285 518h1v1h-1zM293 518h1v1h-1zM299 518h1v1h-1zM319 518h1v1h-1zM360 518h2v1h-2zM285 519h1v1h-1zM292 519h1v1h-1zM295 519h4v1h-4zM319 519h2v1h-2zM360 519h1v1h-1zM286 520h6v1h-6zM296 520h3v1h-3zM321 520h1v1h-1zM359 520h1v1h-1z" fill="#000" shape-rendering="crispEdges"/>
</svg>
</body></html>
